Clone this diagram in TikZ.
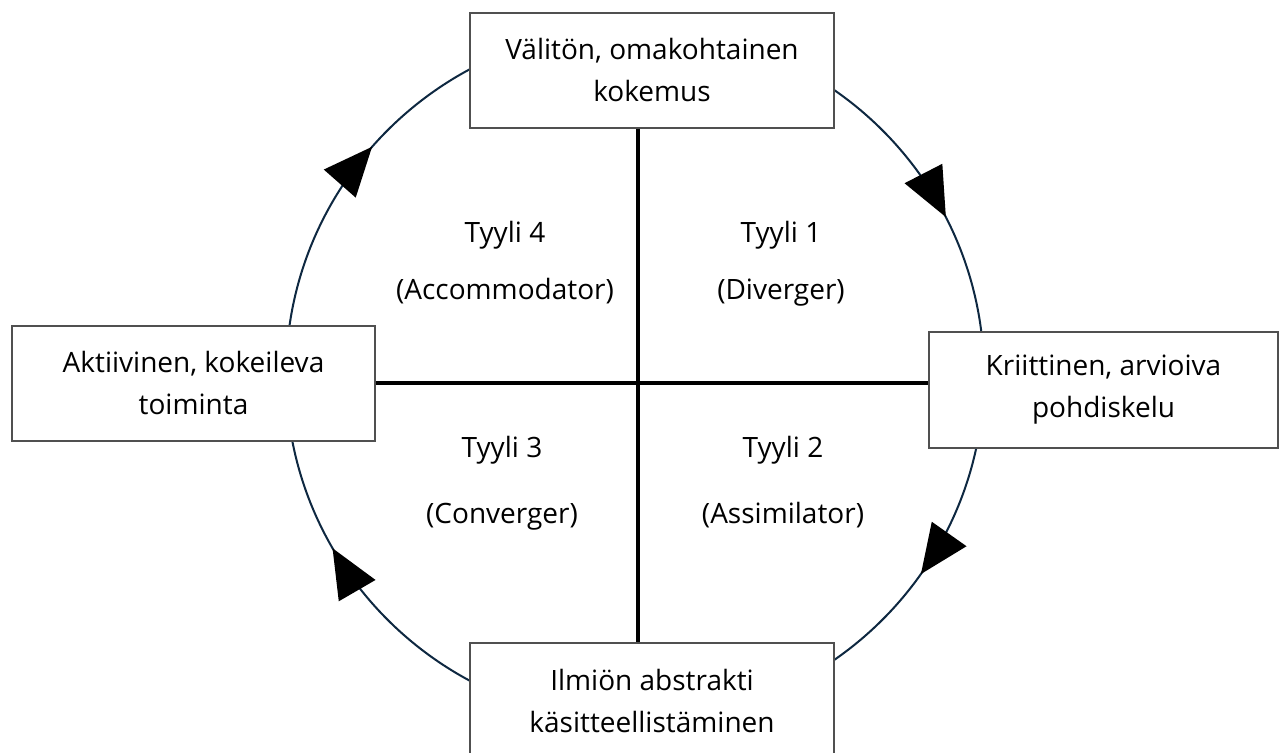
\documentclass[tikz,border=0pt]{standalone}
\usepackage{fontspec}
\setmainfont{Open Sans}
\usetikzlibrary{arrows.meta,decorations.markings}
\definecolor{ringcol}{RGB}{14,40,65}
\definecolor{boxline}{RGB}{80,80,80}
\begin{document}
\begin{tikzpicture}[x=0.5pt,y=-0.5pt,
  stagebox/.style={draw=boxline,line width=0.6pt,fill=white,align=center,inner sep=0pt,
    minimum width=182pt,minimum height=57.5pt,font=\fontsize{14}{21}\selectfont},
  stylelabel/.style={anchor=base,inner sep=0pt,font=\fontsize{14}{16}\selectfont},
  axisline/.style={draw=black,line width=2pt},
  ring/.style={draw=ringcol,line width=1pt,postaction={decorate},
    decoration={markings,
      mark=at position 0.097 with {\arrow{Triangle[length=24.5pt,width=21pt,color=black]}},
      mark=at position 0.417 with {\arrow{Triangle[length=24.5pt,width=21pt,color=black]}},
      mark=at position 0.614 with {\arrow{Triangle[length=24.5pt,width=21pt,color=black]}},
      mark=at position 0.925 with {\arrow{Triangle[length=24.5pt,width=21pt,color=black]}}}}]
\useasboundingbox (0,0) rectangle (1279,753);
\fill[white] (0,0) rectangle (1279,753);
\coordinate (ctr) at (635,375);
\coordinate (cross) at (638,383);
\draw[ring] (ctr) ellipse [x radius=349, y radius=347];
\node[stagebox] (top) at (652,70.5) {Välitön, omakohtainen\\kokemus};
\node[stagebox,minimum width=181.5pt] (left) at (193.5,383.5) {Aktiivinen, kokeileva\\toiminta};
\node[stagebox,minimum width=174.5pt,minimum height=58pt] (right) at (1103.5,390) {Kriittinen, arvioiva\\pohdiskelu};
\node[stagebox] (bot) at (652,700.5) {Ilmiön abstrakti\\käsitteellistäminen};
\draw[axisline] (cross |- top.south) -- (cross |- bot.north);
\draw[axisline] (left.east |- cross) -- (right.west |- cross);
\node[stylelabel] (t4) at (505,243) {Tyyli 4};
\node[stylelabel] (a4) at (505,300) {(Accommodator)};
\node[stylelabel] (t1) at (781,243) {Tyyli 1};
\node[stylelabel] (a1) at (781,300) {(Diverger)};
\node[stylelabel] (t3) at (502,458) {Tyyli 3};
\node[stylelabel] (a3) at (502,523) {(Converger)};
\node[stylelabel] (t2) at (783,458) {Tyyli 2};
\node[stylelabel] (a2) at (783,523) {(Assimilator)};
\end{tikzpicture}
\end{document}
